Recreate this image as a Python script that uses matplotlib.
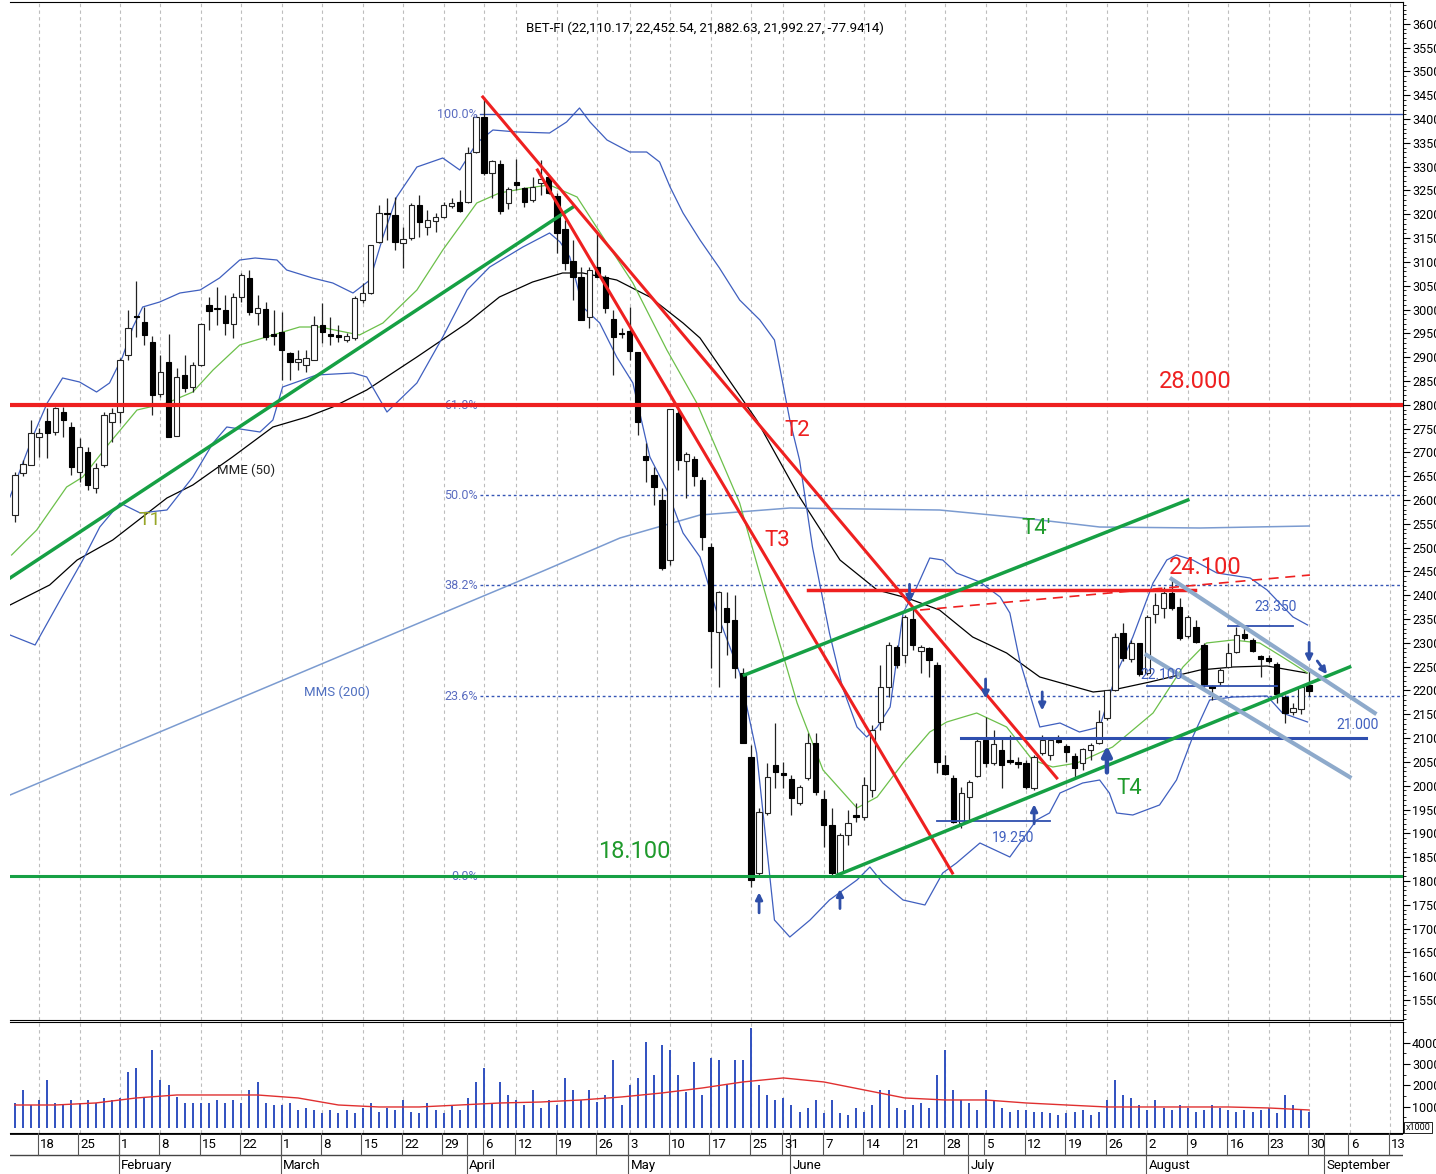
import matplotlib
matplotlib.use('Agg')
import matplotlib.pyplot as plt
from matplotlib.ticker import MultipleLocator, FixedLocator
import numpy as np
import pandas as pd

plt.rcParams['font.family'] = ['Liberation Sans Narrow', 'Roboto', 'DejaVu Sans']

# ----- data -------------------------------------------------------------
# daily candles, BET-FI, 13 Jan 2010 -> 30 Aug 2010
opens = [25685, 26567, 26735, 27323, 27659, 27428, 27848, 27533, 26588, 27008,
         26252, 26735, 27638, 27848, 29045, 29864, 29738, 29318, 28226, 28898,
         27344, 28625, 28373, 28835, 30095, 30032, 29990, 29696, 30263, 30662,
         29927, 30011, 29486, 29528, 29087, 28898, 28835, 28940, 29675, 29486,
         29465, 29360, 29402, 30200, 30347, 31418, 32027, 31985, 31397, 31502,
         32195, 31733, 31859, 31943, 32174, 32258, 32258, 33308, 34043, 32867,
         33056, 32237, 32678, 32552, 32300, 32657, 32783, 32384, 31691, 31019,
         30683, 29843, 30893, 30683, 29801, 29507, 29549, 29108, 26924, 26525,
         26000, 24740, 27827, 26819, 26861, 26420, 25013, 23228, 23732, 23480,
         22367, 20603, 18167, 19427, 20435, 20267, 20141, 19637, 20162, 20897,
         19721, 19175, 18167, 18965, 19385, 19343, 19910, 21338, 22073, 22913,
         22745, 23501, 22829, 22892, 22535, 20435, 20162, 19217, 19763, 20204,
         20960, 20477, 20750, 20540, 20498, 20477, 19952, 20687, 20645, 20960,
         20834, 20624, 20477, 20750, 20897, 21422, 22010, 23207, 22661, 22997,
         22367, 23606, 23732, 24047, 23753, 23144, 23333, 22955, 22094, 22178,
         22493, 22808, 23186, 23060, 22724, 22682, 22556, 21863, 21548, 21611,
         22110]
highs = [26588, 26840, 27680, 27512, 27932, 27953, 27953, 27638, 27302, 27113,
         26777, 27848, 27932, 28982, 29990, 30599, 30053, 29444, 29045, 29486,
         28772, 29045, 28898, 29717, 30263, 30473, 30305, 30347, 30767, 30830,
         30305, 30158, 29990, 29948, 29108, 29150, 29150, 29864, 30137, 29843,
         29675, 29507, 30284, 30557, 31355, 32195, 32342, 32363, 31733, 32237,
         32405, 32090, 32027, 32258, 32342, 32510, 33413, 34085, 34463, 33140,
         33140, 32573, 33161, 32573, 32783, 33140, 32825, 32447, 31880, 31460,
         30893, 30893, 31607, 30725, 29990, 29612, 30053, 29108, 27197, 26693,
         26252, 27911, 27890, 27008, 26924, 26483, 25097, 24089, 24068, 24005,
         22472, 20855, 19532, 20477, 21317, 20498, 20225, 20015, 21107, 21107,
         19910, 19532, 19007, 19490, 19637, 20183, 21275, 22535, 23018, 22955,
         23585, 23753, 22955, 22913, 22598, 20645, 20225, 19973, 20120, 21023,
         21443, 21170, 21002, 21065, 20603, 20540, 20645, 21065, 21002, 21065,
         20876, 20687, 20792, 20897, 21590, 22010, 23207, 23417, 23060, 22997,
         23585, 24047, 24173, 24320, 23942, 23585, 23480, 22997, 22115, 22472,
         22997, 23333, 23312, 23102, 22745, 22745, 22598, 21905, 21737, 22115,
         22452]
lows = [25538, 26504, 26735, 26903, 26882, 27365, 27323, 26525, 26378, 26210,
        26147, 26693, 27218, 27617, 28940, 29423, 29255, 27785, 28163, 27323,
        27344, 28268, 28268, 28814, 29570, 29675, 29465, 29402, 30158, 29885,
        29675, 29360, 29255, 28520, 28520, 28730, 28688, 28940, 29297, 29255,
        29318, 29318, 29360, 30137, 30326, 31397, 31460, 31250, 30872, 31460,
        31523, 31565, 31628, 31922, 32132, 32048, 32237, 33287, 32825, 32342,
        32006, 32111, 32510, 32153, 32258, 32405, 32426, 31187, 30830, 30200,
        29780, 29612, 30683, 29927, 28625, 29402, 28940, 27365, 26378, 25895,
        24530, 24635, 26630, 26042, 26294, 24950, 22472, 22073, 22745, 22262,
        20897, 17873, 18125, 19385, 19952, 19952, 19385, 19595, 20120, 19805,
        18713, 18125, 18125, 18755, 19238, 19280, 19763, 21170, 21863, 22472,
        22577, 22850, 22367, 22283, 20267, 20225, 19217, 19112, 19280, 20183,
        20393, 20435, 19952, 20456, 20372, 19931, 19910, 20645, 20540, 20897,
        20498, 20162, 20330, 20540, 20876, 21380, 21989, 22619, 22598, 22304,
        22325, 23417, 23522, 23690, 23060, 23102, 22997, 22073, 21800, 22115,
        22472, 22787, 23060, 22808, 22283, 22577, 21737, 21317, 21485, 21506,
        21882]
closes = [26525, 26756, 27407, 27407, 27407, 27932, 27680, 26693, 27113, 26315,
          26672, 27785, 27827, 28940, 29612, 29843, 29465, 28205, 28688, 27323,
          28583, 28352, 28835, 29696, 29969, 30011, 29717, 30263, 30725, 29948,
          30032, 29423, 29444, 29150, 28898, 28961, 28982, 29675, 29528, 29444,
          29423, 29444, 30242, 30347, 31355, 32027, 32006, 31418, 31481, 32195,
          31838, 31880, 31943, 32195, 32237, 32069, 33287, 34043, 32867, 33119,
          32069, 32531, 32615, 32258, 32573, 32741, 32447, 31607, 30977, 30683,
          29780, 30830, 30683, 30032, 29423, 29486, 29129, 27638, 26840, 26273,
          24572, 27911, 26840, 26966, 26504, 25223, 23249, 24068, 23438, 22472,
          20897, 18020, 19448, 20183, 20288, 20225, 19742, 19973, 20897, 19868,
          19175, 18167, 18965, 19217, 19343, 20015, 21170, 22073, 22955, 22535,
          23543, 22955, 22913, 22640, 20498, 20246, 19238, 19847, 20078, 20939,
          20477, 20876, 20435, 20498, 20456, 19973, 20603, 20960, 20960, 20918,
          20708, 20372, 20771, 20855, 21338, 22010, 23123, 22682, 22997, 22346,
          23543, 23795, 24047, 23732, 23102, 23543, 23018, 22136, 22052, 22430,
          22787, 23165, 23102, 22829, 22661, 22619, 21926, 21527, 21632, 22073,
          21992]
volumes = [11700, 17800, 10800, 13200, 22500, 11700, 10800, 13200, 11700, 13200,
           11700, 14100, 13200, 14100, 26300, 28200, 14100, 36600, 22500, 20200,
           14500, 11700, 11700, 11700, 11700, 13200, 11700, 13200, 11700, 17800,
           21600, 11700, 10800, 10800, 11700, 8500, 9400, 8500, 7000, 8500,
           7000, 8500, 7000, 9400, 11700, 7500, 9400, 8500, 13200, 7500,
           7000, 11700, 8500, 7000, 10800, 8500, 14100, 21600, 28200, 11700,
           21600, 15500, 13200, 10800, 17800, 9400, 13200, 10800, 23500, 17800,
           13200, 17800, 12200, 15500, 31900, 10800, 20200, 23500, 40400, 24900,
           39000, 36600, 24900, 16900, 31000, 15500, 32900, 31900, 20200, 31900,
           31900, 47000, 20200, 15500, 13200, 14100, 10800, 7500, 9400, 13200,
           7000, 13200, 7000, 6100, 9400, 7500, 10800, 17800, 17800, 9400,
           8500, 10800, 11700, 9400, 24900, 36600, 17800, 13200, 11700, 8500,
           17800, 13200, 9400, 7500, 8500, 8500, 7500, 7500, 7000, 6100,
           7000, 7500, 8500, 6100, 7500, 13200, 22500, 15500, 14100, 10800,
           8500, 13200, 9400, 8500, 10800, 9400, 7500, 8500, 10800, 9400,
           8500, 7500, 8500, 7500, 8500, 9400, 7000, 15500, 10800, 8500,
           7500]

# indicator curves at (session index, value)
mms200_x = [-0.6, 22.9, 47.6, 65.3, 74.8, 84.7, 95.8, 114.3, 124.6, 134.1, 146.5, 160]
mms200_y = [19805, 21485, 23249, 24509, 25202, 25685, 25832, 25790, 25622, 25433, 25412, 25454]

mme50_x = [-0.6, 4.3, 7.7, 12.1, 18.8, 22.0, 26.9, 31.9, 36.1, 39.3, 43.5, 49.7, 55.9,
           59.9, 64.0, 67.7, 70.2, 74.4, 78.5, 82.6, 84.7, 91.7, 97.0, 102.0, 106.6,
           110.3, 114.3, 118.4, 122.6, 126.7, 133.3, 135.7, 140.3, 146.5, 150.6, 154.8, 159.7]
mme50_y = [23795, 24215, 24740, 25160, 26042, 26315, 26903, 27533, 27743, 27953, 28310,
           29003, 29717, 30263, 30578, 30767, 30767, 30620, 30263, 29717, 29402, 27680,
           26063, 24740, 24110, 23942, 23690, 23123, 22787, 22283, 21968, 22010, 22178,
           22430, 22493, 22514, 22367]

sma20_x = [-0.4, 2.7, 6.4, 8.4, 11.7, 15.1, 18.8, 22.0, 24.5, 27.8, 31.9, 35.2, 37.7,
           42.6, 45.5, 49.7, 52.9, 57.1, 59.9, 63.3, 66.1, 69.5, 72.7, 76.4, 80.6, 84.3,
           89.6, 93.7, 96.7, 99.9, 104.1, 106.6, 109.8, 113.1, 115.2, 118.9, 122.6, 125.8,
           128.3, 131.3, 135.7, 140.7, 144.4, 147.3, 150.6, 153.9, 156.7, 159.8]
sma20_y = [24845, 25370, 26273, 26483, 27197, 27890, 28037, 28268, 28730, 29255, 29465,
           29633, 29633, 29465, 29717, 30410, 31250, 32237, 32447, 32552, 32615, 32363,
           31523, 30557, 29150, 28037, 25937, 23480, 21737, 20330, 19532, 19763, 20477,
           21128, 21338, 21527, 21233, 20540, 20393, 20477, 20813, 21527, 22493, 22997,
           23060, 22997, 22703, 22367]

bb_up_x = [-0.6, 2.2, 4.0, 5.9, 8.0, 10.1, 11.7, 13.3, 14.6, 15.8, 17.9, 20.4, 22.9, 25.3,
           27.8, 29.7, 32.4, 33.6, 36.8, 39.3, 41.8, 43.9, 45.5, 47.2, 49.7, 52.9, 55.0,
           57.1, 59.1, 62.1, 66.1, 68.2, 69.8, 71.1, 73.2, 76.0, 78.1, 79.7, 81.0, 82.6,
           84.7, 87.1, 89.6, 92.1, 93.9, 95.8, 97.0, 98.6, 100.7, 102.3, 104.1, 105.3,
           106.6, 108.2, 109.8, 111.5, 113.1, 114.7, 116.4, 119.3, 121.8, 123.0, 124.2,
           125.8, 126.7, 129.2, 131.6, 134.1, 136.2, 138.2, 140.7, 142.4, 143.6, 145.6,
           148.6, 152.7, 154.8, 158.0, 159.8]
bb_up_y = [26063, 27323, 28037, 28562, 28478, 28268, 28457, 29003, 29633, 30053, 30158,
           30347, 30410, 30662, 31040, 31082, 31040, 30830, 30662, 30557, 30347, 30620,
           31523, 32363, 32993, 33182, 32930, 33497, 33770, 33728, 33707, 33938, 34232,
           33938, 33560, 33308, 33308, 33098, 32573, 32027, 31460, 30872, 30200, 29780,
           29360, 27680, 26840, 25013, 23207, 22073, 21233, 21023, 21233, 21653, 23627,
           24173, 24782, 24740, 24467, 24278, 23963, 23627, 22640, 21737, 21233, 21317,
           21128, 21233, 22367, 23123, 24257, 24740, 24845, 24740, 24467, 24362, 24110,
           23543, 23375]

bb_low_x = [-0.6, 2.5, 5.6, 8.4, 10.5, 13.0, 15.5, 18.8, 22.0, 24.5, 26.2, 30.3, 31.9,
            33.1, 37.3, 41.8, 43.5, 46.0, 49.7, 52.9, 55.9, 58.7, 62.8, 66.1, 67.4, 68.6,
            70.2, 72.3, 74.4, 76.4, 78.5, 80.6, 82.6, 84.7, 86.8, 89.6, 91.7, 93.9, 95.8,
            98.3, 100.7, 104.1, 105.7, 107.3, 109.8, 112.5, 114.7, 116.4, 119.3, 123.0,
            126.3, 127.9, 129.2, 132.0, 134.1, 135.3, 136.2, 138.2, 141.5, 143.6, 145.6,
            147.7, 150.6, 154.8, 156.7, 159.8]
bb_low_y = [23165, 22955, 23900, 24740, 25433, 25937, 25727, 25790, 26483, 27197, 27533,
            27428, 27680, 28373, 28625, 28667, 28583, 27848, 28457, 29423, 30410, 30893,
            31313, 31607, 31418, 31103, 30053, 29717, 29003, 28457, 26903, 26210, 25307,
            24803, 23627, 22367, 20687, 17180, 16823, 17180, 17600, 18020, 18293, 17957,
            17600, 17495, 18167, 18377, 18797, 18503, 19280, 19427, 19847, 20057, 20120,
            19847, 19427, 19385, 19595, 20120, 21023, 21800, 21863, 21884, 21527, 21338]

vol_ma_x = list(range(0, 161, 5))
vol_ma_y = [10800, 10800, 11750, 14100, 15500, 15500, 15500, 14100, 10800, 9870,
            9870, 10800, 11750, 12200, 13160, 14570, 16450, 18800, 21620, 23500,
            21620, 17860, 14100, 13160, 13160, 11750, 10800, 9870, 9870, 9870,
            9870, 9400, 8460]

fib_lo = 18100
fib_hi = 34100
fib_pcts = [0.0, 23.6, 38.2, 50.0, 61.8, 100.0]

holidays = ['2010-04-05', '2010-04-30', '2010-05-24']

# ----- dates / positions ------------------------------------------------
days = pd.bdate_range('2010-01-13', '2010-09-24')
days = days[~days.isin(pd.to_datetime(holidays))]
pos = np.arange(len(opens))
x_min, x_max = -0.6, 171.6

week_ticks = [i for i in range(1, len(days))
              if days[i].isocalendar()[1] != days[i - 1].isocalendar()[1] and i < x_max]
month_ticks = [i for i in range(1, len(days)) if days[i].month != days[i - 1].month and i < x_max]

# ----- figure -----------------------------------------------------------
fig = plt.figure(figsize=(14.36, 11.74), dpi=100)
L = 10 / 1436
W = 1393 / 1436
ax = fig.add_axes([L, 1 - 1020 / 1174, W, 1018 / 1174])
axv = fig.add_axes([L, 1 - 1133 / 1174, W, 111 / 1174])
axd = fig.add_axes([L, 0, W, 41 / 1174])

blue = '#3f5fbf'
red = '#ee2020'
green = '#16a044'
txt_green = '#1f9a2c'

for a in (ax, axv):
    a.set_xlim(x_min, x_max)
    for t in week_ticks:
        a.axvline(t, color='#bdbdbd', ls=(0, (3, 3)), lw=0.8, zorder=0)
    a.spines['left'].set_visible(False)
    a.yaxis.tick_right()
    a.set_xticks([])
    a.tick_params(axis='y', which='both', direction='out', labelsize=9, pad=1.5)
    a.tick_params(axis='y', which='major', length=5)
    a.tick_params(axis='y', which='minor', length=2.5)

ax.set_ylim(15080, 36458)
ax.yaxis.set_major_locator(MultipleLocator(500))
ax.yaxis.set_minor_locator(MultipleLocator(100))

# indicators
ax.plot(mms200_x, mms200_y, color='#7b9bd0', lw=1.1, zorder=2)
ax.plot(mme50_x, mme50_y, color='black', lw=0.9, zorder=2)
ax.plot(sma20_x, sma20_y, color='#6cc04a', lw=0.9, zorder=2)
ax.plot(bb_up_x, bb_up_y, color=blue, lw=0.9, zorder=2)
ax.plot(bb_low_x, bb_low_y, color=blue, lw=0.9, zorder=2)

# candles
o = np.array(opens)
c = np.array(closes)
up = c >= o
ax.vlines(pos, lows, highs, color='#222222', lw=0.9, zorder=3)
ax.bar(pos[up], (c - o)[up], bottom=o[up], width=0.66, color='white',
       edgecolor='#222222', lw=0.8, zorder=4)
ax.bar(pos[~up], (o - c)[~up], bottom=c[~up], width=0.66, color='black',
       edgecolor='black', lw=0.8, zorder=4)

# fibonacci retracement
fib_start = 57.5
for p in fib_pcts:
    lvl = fib_lo + (fib_hi - fib_lo) * p / 100
    ls = '-' if p in (0.0, 100.0) else (0, (2, 2))
    ax.plot([fib_start, x_max], [lvl, lvl], color='#3555b5', lw=1.0, ls=ls, zorder=2)
    ax.text(fib_start - 0.3, lvl, '%.1f%%' % p, ha='right', va='center',
            fontsize=9, color='#5a6cc0', zorder=5)

# horizontal levels
ax.axhline(28000, color=red, lw=3, zorder=5)
ax.axhline(18100, color=green, lw=2.2, zorder=5)
ax.plot([98, 145.9], [24100, 24100], color=red, lw=2.5, zorder=5)
ax.plot([111.9, 160.1], [23690, 24425], color=red, lw=1.2, ls=(0, (6, 4)), zorder=5)
ax.plot([117, 167], [21000, 21000], color='#2f4faf', lw=2.2, zorder=5)
ax.plot([114, 128], [19250, 19250], color='#2f4faf', lw=1.3, zorder=5)
ax.plot([140, 156], [22100, 22100], color='#2f4faf', lw=1.3, zorder=5)
ax.plot([150, 158], [23350, 23350], color='#2f4faf', lw=1.3, zorder=5)

# trend lines
ax.plot([-0.6, 69], [24362, 32153], color=green, lw=2.5, zorder=5)
ax.plot([57.85, 128.8], [34463, 20162], color=red, lw=2.2, zorder=5)
ax.plot([64.6, 115.9], [32930, 18167], color=red, lw=2.2, zorder=5)
ax.plot([90.2, 145], [22325, 26000], color=green, lw=2.5, zorder=5)
ax.plot([101.7, 165], [18125, 22493], color=green, lw=2.5, zorder=5)
ax.plot([143, 168.1], [24341, 21527], color='#8eaacb', lw=3, zorder=5)
ax.plot([139.9, 165], [22745, 20183], color='#8eaacb', lw=3, zorder=5)

# labels
ax.text(145.9, 28499, '28.000', color=red, fontsize=17, ha='center', va='center', zorder=6)
ax.text(147.1, 24593, '24.100', color=red, fontsize=17, ha='center', va='center', zorder=6)
ax.text(76.6, 18629, '18.100', color=txt_green, fontsize=17, ha='center', va='center', zorder=6)
ax.text(96.7, 27470, 'T2', color=red, fontsize=16, ha='center', va='center', zorder=6)
ax.text(94.2, 25160, 'T3', color=red, fontsize=16, ha='center', va='center', zorder=6)
ax.text(126.2, 25412, "T4'", color=txt_green, fontsize=16, ha='center', va='center', zorder=6)
ax.text(137.8, 19952, 'T4', color=txt_green, fontsize=16, ha='center', va='center', zorder=6)
ax.text(16.7, 25580, 'T1', color='#97a628', fontsize=14, ha='center', va='center', zorder=6)
ax.text(28.6, 26630, 'MME (50)', color='#222222', fontsize=9.5, ha='center', va='center', zorder=6)
ax.text(39.8, 21968, 'MMS (200)', color='#4f6fc0', fontsize=9.5, ha='center', va='center', zorder=6)
ax.text(166, 21275, '21.000', color=blue, fontsize=10, ha='center', va='center', zorder=6)
ax.text(123.4, 18902, '19.250', color=blue, fontsize=10, ha='center', va='center', zorder=6)
ax.text(141.8, 22325, '22.100', color=blue, fontsize=10, ha='center', va='center', zorder=6)
ax.text(155.9, 23753, '23.350', color=blue, fontsize=10, ha='center', va='center', zorder=6)

ax.text(0.499, 0.9745, 'BET-FI (22,110.17, 22,452.54, 21,882.63, 21,992.27, -77.9414)',
        transform=ax.transAxes, ha='center', va='center', fontsize=9.5)

# arrows (session index, tail value, head value)
arr_col = '#2f4fa8'
thin_arrows = [(92, 17330, 17760), (102, 17420, 17830), (126, 19200, 19610),
               (110.6, 24230, 23840), (120, 22240, 21830), (127, 21970, 21580),
               (160, 23010, 22590)]
for xa, y0, y1 in thin_arrows:
    ax.annotate('', xy=(xa, y1), xytext=(xa, y0),
                arrowprops=dict(arrowstyle='-|>', color=arr_col, lw=2, mutation_scale=10,
                                shrinkA=0, shrinkB=0), zorder=6)
ax.annotate('', xy=(135, 20840), xytext=(135, 20280),
            arrowprops=dict(arrowstyle='-|>', color=arr_col, lw=3.2, mutation_scale=14,
                            shrinkA=0, shrinkB=0), zorder=6)
ax.annotate('', xy=(162.2, 22340), xytext=(161.0, 22620),
            arrowprops=dict(arrowstyle='-|>', color=arr_col, lw=2, mutation_scale=10,
                            shrinkA=0, shrinkB=0), zorder=6)

# ----- volume -----------------------------------------------------------
axv.set_ylim(-2350, 49770)
axv.vlines(pos, 0, volumes, color='#3050c0', lw=1.4, zorder=3)
axv.plot(vol_ma_x, vol_ma_y, color='#e03030', lw=1.0, zorder=4)
axv.yaxis.set_major_locator(FixedLocator([10000, 20000, 30000, 40000]))
axv.yaxis.set_minor_locator(FixedLocator([5000, 15000, 25000, 35000, 45000]))
axv.text(1.002, 0.05, 'x1000', transform=axv.transAxes, fontsize=6.5, va='center',
         bbox=dict(facecolor='white', edgecolor='black', lw=0.6, pad=1))

# ----- date band --------------------------------------------------------
axd.set_xlim(x_min, x_max)
axd.set_ylim(0, 1)
axd.axis('off')
axd.axhline(1, color='black', lw=2)
axd.axhline(0.47, color='#444444', lw=1)
for t in week_ticks:
    axd.plot([t - 0.15, t - 0.15], [0.47, 1], color='#555555', lw=0.8)
    axd.text(t + 0.15, 0.73, str(days[t].day), fontsize=9.5, ha='left', va='center')
for t in month_ticks:
    axd.plot([t - 0.15, t - 0.15], [0, 1], color='#555555', lw=0.8)
    axd.text(t + 0.15, 0.2, days[t].strftime('%B'), fontsize=9.5, ha='left', va='center')

fig.savefig('out.png', dpi=100)
